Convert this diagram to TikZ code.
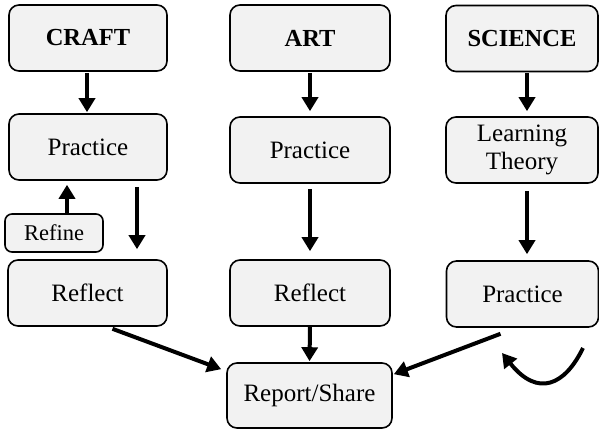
\documentclass[tikz,border=0pt]{standalone}
\usepackage{fontspec}
\setmainfont{Liberation Serif}
\usetikzlibrary{arrows.meta}
\begin{document}
\begin{tikzpicture}[x=1pt,y=-1pt,
  box/.style={draw=black,line width=1.6pt,fill=black!5,rounded corners=10pt,
    align=center,inner sep=0pt,font=\fontsize{25}{28}\selectfont},
  headbox/.style={box,font=\fontsize{24.5}{28}\selectfont\bfseries},
  arr/.style={line width=4pt,-{Triangle[width=16pt,length=14pt]}}]
\useasboundingbox (0,0) rectangle (599,429);

% column headings
\node[headbox,minimum width=158pt,minimum height=66pt] (craft) at (88,38) {CRAFT};
\node[headbox,minimum width=160pt,minimum height=66pt] (art) at (310,38) {ART};
\node[headbox,minimum width=152pt,minimum height=66pt] (sci) at (522,38.5) {SCIENCE};

% second row
\node[box,minimum width=158pt,minimum height=66pt] (p1) at (88,147) {Practice};
\node[box,minimum width=160pt,minimum height=66pt] (p2) at (310,150) {Practice};
\node[box,minimum width=152pt,minimum height=66pt] (lt) at (522,150) {Learning\\Theory};

% refine loop box
\node[box,rounded corners=7pt,minimum width=98pt,minimum height=38pt,
  font=\fontsize{22.5}{26}\selectfont] (refine) at (54,233) {Refine};

% third row
\node[box,minimum width=159pt,minimum height=66pt] (r1) at (87.5,293) {Reflect};
\node[box,minimum width=160pt,minimum height=66pt] (r2) at (310,293) {Reflect};
\node[box,minimum width=152pt,minimum height=66pt] (p3) at (522.5,294) {Practice};

% shared outcome
\node[box,minimum width=165pt,minimum height=65pt] (rep) at (309.5,395.5) {Report/Share};

% craft column
\draw[arr,shorten <=1pt,shorten >=1pt] ([xshift=-1pt]craft.south) -- ([xshift=-1pt]p1.north);
\draw[arr,shorten >=4pt] ([xshift=13pt]refine.north) -- ([xshift=13pt]refine.north |- p1.south);
\draw[arr,shorten <=6pt,shorten >=10pt] ([xshift=49pt]p1.south) -- ([xshift=49pt]p1.south |- r1.north);

% art column
\draw[arr,shorten <=1pt,shorten >=5pt] (art.south) -- (p2.north);
\draw[arr,shorten <=5pt,shorten >=8pt] (p2.south) -- (r2.north);
\draw[arr,shorten >=1pt] (r2.south) -- (rep.north);

% science column
\draw[arr,shorten <=1pt,shorten >=5pt] ([xshift=5pt]sci.south) -- ([xshift=5pt]lt.north);
\draw[arr,shorten <=7pt,shorten >=6pt] ([xshift=5pt]lt.south) -- ([xshift=5pt]lt.south |- p3.north);

% converging arrows
\draw[arr] ([xshift=25pt,yshift=-2pt]r1.south) -- ([xshift=-5pt,yshift=-7pt]rep.north west);
\draw[arr] ([xshift=-22pt,yshift=-6pt]p3.south) -- ([xshift=1pt,yshift=-12pt]rep.north east);

% looping arrow below science practice
\coordinate (loopA) at (583,348);
\coordinate (loopB) at (502,353);
\draw[arr] (loopA) .. controls (565,385) and (538,398) .. (loopB);
\end{tikzpicture}
\end{document}
